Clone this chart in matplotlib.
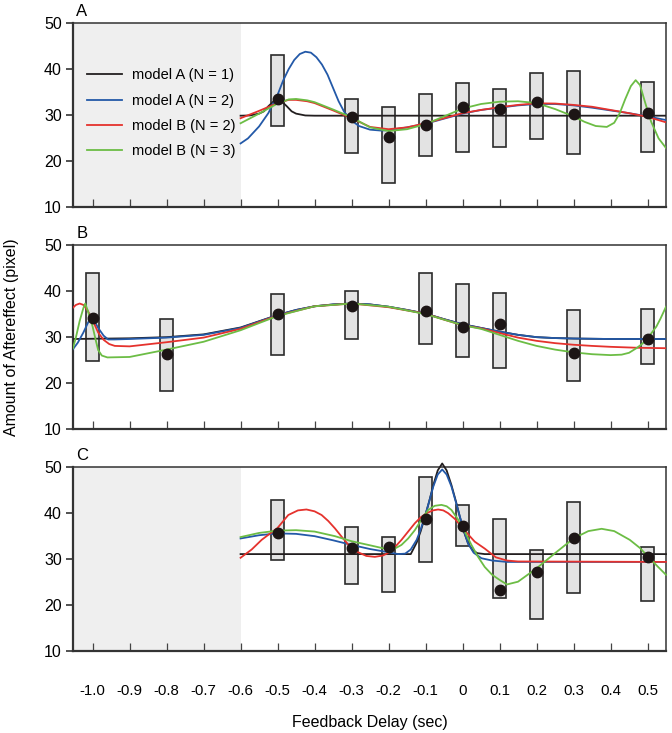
import matplotlib
matplotlib.use('Agg')
import matplotlib.pyplot as plt

plt.rcParams['font.family'] = ['Liberation Sans', 'DejaVu Sans']

# ---------------- data ----------------
xticks = [-1.0, -0.9, -0.8, -0.7, -0.6, -0.5, -0.4, -0.3, -0.2, -0.1, 0.0, 0.1, 0.2, 0.3, 0.4, 0.5]
xtick_labels = ['-1.0', '-0.9', '-0.8', '-0.7', '-0.6', '-0.5', '-0.4', '-0.3', '-0.2', '-0.1',
                '0', '0.1', '0.2', '0.3', '0.4', '0.5']
yticks = [10, 20, 30, 40, 50]
legend_labels = ['model A (N = 1)', 'model A (N = 2)', 'model B (N = 2)', 'model B (N = 3)']

# Panel A observations
A_x = [-0.5, -0.3, -0.2, -0.1, 0.0, 0.1, 0.2, 0.3, 0.5]
A_mean = [33.4, 29.6, 25.1, 27.9, 31.8, 31.2, 32.8, 30.2, 30.5]
A_low = [27.6, 21.8, 15.2, 21.1, 21.9, 23.0, 24.8, 21.5, 21.9]
A_high = [43.1, 33.4, 31.7, 34.6, 37.0, 35.7, 39.2, 39.7, 37.2]

# Panel A model curves
A_k_x = [-0.6, -0.575, -0.55, -0.537, -0.525, -0.512, -0.5, -0.488, -0.475, -0.462, -0.45, -0.425, -0.4, 0.55]
A_k_y = [29.85, 29.9, 30.3, 30.8, 31.9, 32.9, 33.4, 32.9, 31.9, 30.8, 30.3, 29.9, 29.85, 29.85]
A_b_x = [-0.6, -0.58, -0.55, -0.525, -0.5, -0.485, -0.47, -0.455, -0.44, -0.425, -0.41, -0.395, -0.38,
         -0.365, -0.35, -0.335, -0.32, -0.3, -0.28, -0.25, -0.22, -0.2, -0.15, -0.1, -0.05, 0.0, 0.05,
         0.1, 0.15, 0.2, 0.25, 0.3, 0.35, 0.4, 0.45, 0.5, 0.55]
A_b_y = [23.8, 24.9, 27.5, 30.4, 34.4, 37.5, 40.0, 42.0, 43.3, 43.8, 43.6, 42.6, 41.0,
         38.8, 35.9, 33.0, 30.7, 28.8, 27.6, 26.8, 26.6, 26.7, 27.3, 28.1, 29.2, 30.3, 31.1,
         31.6, 32.1, 32.4, 32.4, 32.1, 31.6, 31.0, 30.4, 29.7, 28.9]
A_r_x = [-0.6, -0.55, -0.5, -0.47, -0.45, -0.42, -0.4, -0.35, -0.3, -0.25, -0.2, -0.15, -0.1, -0.05,
         0.0, 0.05, 0.1, 0.15, 0.2, 0.25, 0.3, 0.35, 0.4, 0.45, 0.5, 0.55]
A_r_y = [29.3, 30.9, 32.6, 33.3, 33.3, 33.0, 32.6, 31.0, 29.3, 27.4, 26.9, 27.3, 28.2, 29.3,
         30.4, 31.1, 31.7, 32.2, 32.55, 32.5, 32.2, 31.8, 31.1, 30.4, 29.6, 28.4]
A_g_x = [-0.6, -0.55, -0.5, -0.47, -0.45, -0.42, -0.4, -0.35, -0.3, -0.25, -0.2, -0.15, -0.1, -0.05,
         0.0, 0.05, 0.1, 0.15, 0.2, 0.25, 0.3, 0.33, 0.36, 0.39, 0.41, 0.425, 0.44, 0.455, 0.468,
         0.48, 0.49, 0.5, 0.51, 0.53, 0.55]
A_g_y = [28.2, 30.3, 32.5, 33.4, 33.5, 33.2, 32.8, 31.2, 29.5, 27.3, 26.5, 26.9, 28.0, 29.7,
         31.4, 32.4, 32.9, 33.0, 32.6, 31.3, 29.7, 28.5, 27.6, 27.4, 28.3, 30.4, 33.5, 36.3, 37.6,
         36.5, 33.7, 31.0, 28.5, 24.9, 22.8]

# Panel B observations
B_x = [-1.0, -0.8, -0.5, -0.3, -0.1, 0.0, 0.1, 0.3, 0.5]
B_mean = [34.2, 26.4, 35.0, 36.8, 35.7, 32.1, 32.9, 26.5, 29.6]
B_low = [24.9, 18.4, 26.1, 29.6, 28.5, 25.8, 23.4, 20.4, 24.2]
B_high = [43.9, 33.9, 39.3, 40.0, 44.0, 41.6, 39.6, 35.9, 36.2]

# Panel B model curves
B_k_x = [-1.053, -0.95, -0.9, -0.8, -0.7, -0.6, -0.5, -0.45, -0.4, -0.35, -0.3, -0.25, -0.2, -0.15,
         -0.1, -0.05, 0.0, 0.05, 0.1, 0.15, 0.2, 0.25, 0.3, 0.4, 0.55]
B_k_y = [29.6, 29.7, 29.75, 30.0, 30.6, 32.1, 34.8, 35.9, 36.7, 37.1, 37.3, 37.1, 36.6, 35.9,
         35.1, 33.9, 32.8, 32.0, 31.2, 30.5, 30.0, 29.8, 29.7, 29.6, 29.6]
B_b_x = [-1.053, -1.04, -1.025, -1.012, -1.004, -0.995, -0.985, -0.97, -0.958, -0.94, -0.9, -0.8, -0.7,
         -0.6, -0.5, -0.45, -0.4, -0.35, -0.3, -0.25, -0.2, -0.15, -0.1, -0.05, 0.0, 0.05, 0.1,
         0.15, 0.2, 0.25, 0.3, 0.4, 0.55]
B_b_y = [27.4, 28.8, 31.0, 33.2, 34.1, 33.5, 32.0, 30.3, 29.5, 29.5, 29.6, 29.9, 30.5,
         32.0, 34.8, 35.9, 36.7, 37.1, 37.3, 37.1, 36.6, 35.9, 35.1, 33.9, 32.8, 32.0, 31.2,
         30.5, 30.0, 29.8, 29.7, 29.6, 29.6]
B_r_x = [-1.053, -1.045, -1.035, -1.025, -1.015, -1.005, -0.995, -0.985, -0.97, -0.955, -0.94, -0.9,
         -0.8, -0.7, -0.6, -0.5, -0.4, -0.3, -0.2, -0.1, -0.05, 0.0, 0.05, 0.1, 0.15, 0.2, 0.25,
         0.3, 0.35, 0.4, 0.47, 0.55]
B_r_y = [36.4, 37.0, 37.3, 37.0, 36.0, 34.5, 32.8, 31.0, 29.4, 28.5, 28.1, 28.0,
         28.9, 29.9, 31.8, 34.7, 36.7, 37.3, 36.5, 35.1, 33.8, 32.6, 31.9, 30.9, 29.9, 29.2, 28.7,
         28.35, 28.1, 27.9, 27.7, 27.6]
B_g_x = [-1.053, -1.045, -1.035, -1.025, -1.02, -1.012, -1.0, -0.992, -0.985, -0.975, -0.96, -0.9,
         -0.8, -0.7, -0.6, -0.5, -0.4, -0.3, -0.2, -0.1, -0.05, 0.0, 0.05, 0.1, 0.15, 0.2, 0.25,
         0.3, 0.35, 0.4, 0.43, 0.45, 0.47, 0.485, 0.497, 0.51, 0.524, 0.535, 0.55]
B_g_y = [27.6, 30.0, 33.5, 36.3, 37.3, 35.5, 32.3, 29.5, 27.2, 26.0, 25.6, 25.7,
         27.3, 29.0, 31.5, 34.6, 36.7, 37.3, 36.6, 35.0, 33.8, 32.6, 31.8, 30.5, 29.2, 28.1, 27.3,
         26.7, 26.3, 26.1, 26.2, 26.6, 27.6, 28.5, 29.4, 30.8, 32.3, 34.0, 36.6]

# Panel C observations
C_x = [-0.5, -0.3, -0.2, -0.1, 0.0, 0.1, 0.2, 0.3, 0.5]
C_mean = [35.5, 32.4, 32.6, 38.6, 37.2, 23.2, 27.2, 34.4, 30.4]
C_low = [29.7, 24.6, 22.7, 29.2, 32.8, 21.4, 17.0, 22.5, 20.7]
C_high = [42.8, 36.8, 34.7, 47.8, 41.6, 38.6, 31.9, 42.3, 32.6]

# Panel C model curves
C_k_x = [-0.6, -0.14, -0.124, -0.113, -0.102, -0.09, -0.079, -0.067, -0.055, -0.043, -0.03, -0.018,
         -0.007, 0.004, 0.015, 0.028, 0.04, 0.06, 0.55]
C_k_y = [31.0, 31.0, 33.5, 36.0, 39.0, 42.5, 46.0, 49.2, 50.7, 49.2, 46.0, 42.5,
         39.0, 35.8, 33.3, 31.8, 31.2, 31.0, 31.0]
C_b_x = [-0.6, -0.55, -0.5, -0.45, -0.4, -0.35, -0.3, -0.25, -0.2, -0.174, -0.155, -0.14, -0.124,
         -0.113, -0.102, -0.09, -0.079, -0.067, -0.055, -0.043, -0.03, -0.018, -0.007, 0.004, 0.015,
         0.03, 0.051, 0.08, 0.12, 0.55]
C_b_y = [34.4, 35.1, 35.5, 35.4, 34.9, 34.0, 33.0, 32.1, 31.4, 31.0, 31.1, 32.0, 34.1,
         36.4, 39.1, 42.5, 45.7, 48.3, 49.4, 48.3, 45.7, 42.3, 39.1, 36.0, 33.3,
         31.3, 30.1, 29.6, 29.3, 29.3]
C_r_x = [-0.6, -0.57, -0.543, -0.5, -0.471, -0.445, -0.422, -0.4, -0.381, -0.363, -0.345, -0.325,
         -0.305, -0.285, -0.26, -0.237, -0.215, -0.2, -0.183, -0.165, -0.147, -0.129, -0.113, -0.097,
         -0.08, -0.066, -0.052, -0.039, -0.02, -0.003, 0.015, 0.033, 0.06, 0.09, 0.12, 0.15, 0.55]
C_r_y = [30.2, 32.0, 34.1, 36.7, 39.5, 40.5, 40.7, 40.3, 39.5, 38.2, 36.6, 34.6,
         32.7, 31.5, 30.6, 30.4, 30.7, 31.3, 32.5, 34.1, 35.9, 37.7, 39.0, 39.9,
         40.5, 40.7, 40.5, 39.9, 38.6, 37.0, 35.3, 33.7, 32.2, 30.3, 29.6, 29.4, 29.3]
C_g_x = [-0.6, -0.55, -0.5, -0.45, -0.4, -0.345, -0.3, -0.255, -0.2, -0.183, -0.165, -0.147, -0.129,
         -0.111, -0.093, -0.075, -0.057, -0.043, -0.03, -0.012, 0.006, 0.024, 0.042, 0.06, 0.08, 0.1,
         0.12, 0.15, 0.2, 0.25, 0.3, 0.34, 0.376, 0.41, 0.452, 0.48, 0.502, 0.53, 0.55]
C_g_y = [34.7, 35.6, 36.1, 36.2, 35.9, 34.9, 33.8, 33.0, 32.0, 32.2, 33.0, 34.4, 36.2,
         38.5, 40.6, 41.5, 41.7, 41.4, 40.6, 38.5, 35.9, 33.0, 30.4, 28.2, 26.5, 25.4,
         24.4, 25.0, 27.9, 31.2, 34.4, 36.0, 36.5, 36.0, 34.1, 32.3, 30.4, 28.1, 26.5]

# ---------------- style ----------------
COL_K = '#231f20'
COL_B = '#2359a8'
COL_R = '#e5322d'
COL_G = '#6cbd45'
BOX_FACE = '#e3e3e3'
BOX_EDGE = '#2b2b2b'
SHADE = '#efefef'
XMIN, XMAX = -1.053, 0.55

W, H = 672, 733
fig = plt.figure(figsize=(W / 100, H / 100), dpi=100)


def add_ax(top, bottom):
    return fig.add_axes([73 / W, 1 - bottom / H, (666 - 73) / W, (bottom - top) / H])


def style(ax, show_xlabels):
    ax.set_xlim(XMIN, XMAX)
    ax.set_ylim(10, 50)
    ax.set_yticks(yticks)
    ax.set_xticks(xticks)
    if show_xlabels:
        ax.set_xticklabels(xtick_labels, fontsize=10.8)
    else:
        ax.set_xticklabels([])
    ax.tick_params(axis='x', direction='in', length=6, width=0.9, color='#444444', pad=24)
    ax.tick_params(axis='y', direction='out', length=5, width=1.2, color='#333333', labelsize=11.5, pad=3)
    for s in ax.spines.values():
        s.set_color('#333333')
        s.set_linewidth(1.1)
    ax.spines['left'].set_linewidth(1.6)
    ax.spines['bottom'].set_linewidth(1.6)


def draw(ax, ox, om, olo, ohi, curves, shade, clip=True):
    if shade:
        ax.axvspan(XMIN, -0.6, color=SHADE, zorder=0, lw=0)
    ax.bar(ox, [h - l for h, l in zip(ohi, olo)], bottom=olo, width=0.036,
           color=BOX_FACE, edgecolor=BOX_EDGE, linewidth=1.2, zorder=2)
    lines = []
    for (cx, cy), col in zip(curves, [COL_K, COL_B, COL_R, COL_G]):
        ln, = ax.plot(cx, cy, color=col, lw=1.3, zorder=3, solid_joinstyle='round', clip_on=clip)
        lines.append(ln)
    ax.plot(ox, om, 'o', color='#1c1515', markersize=7.5, zorder=4)
    return lines


axA = add_ax(23.3, 206.7)
axB = add_ax(245.0, 429.3)
axC = add_ax(466.7, 650.7)

linesA = draw(axA, A_x, A_mean, A_low, A_high,
              [(A_k_x, A_k_y), (A_b_x, A_b_y), (A_r_x, A_r_y), (A_g_x, A_g_y)], True)
draw(axB, B_x, B_mean, B_low, B_high,
     [(B_k_x, B_k_y), (B_b_x, B_b_y), (B_r_x, B_r_y), (B_g_x, B_g_y)], False)
draw(axC, C_x, C_mean, C_low, C_high,
     [(C_k_x, C_k_y), (C_b_x, C_b_y), (C_r_x, C_r_y), (C_g_x, C_g_y)], True, clip=False)

style(axA, False)
style(axB, False)
style(axC, True)

axA.legend(linesA, legend_labels, loc='upper left', frameon=False,
           bbox_to_anchor=((87 - 73) / 593, 1 - 45.0 / 183.4), borderaxespad=0, borderpad=0,
           handlelength=2.4, handletextpad=0.7, labelspacing=0.78, fontsize=10.5)

for lab, y in [('A', 11.7), ('B', 234.0), ('C', 455.0)]:
    fig.text(82 / W, 1 - y / H, lab, ha='center', va='center', fontsize=12)

fig.text(12 / W, 1 - 337 / H, 'Amount of Aftereffect (pixel)', rotation=90,
         ha='center', va='center', fontsize=11.5)
fig.text((73 + 666) / 2 / W, 1 - 722 / H, 'Feedback Delay (sec)', ha='center', va='center',
         fontsize=11.5)

fig.savefig('out.png', dpi=100)
